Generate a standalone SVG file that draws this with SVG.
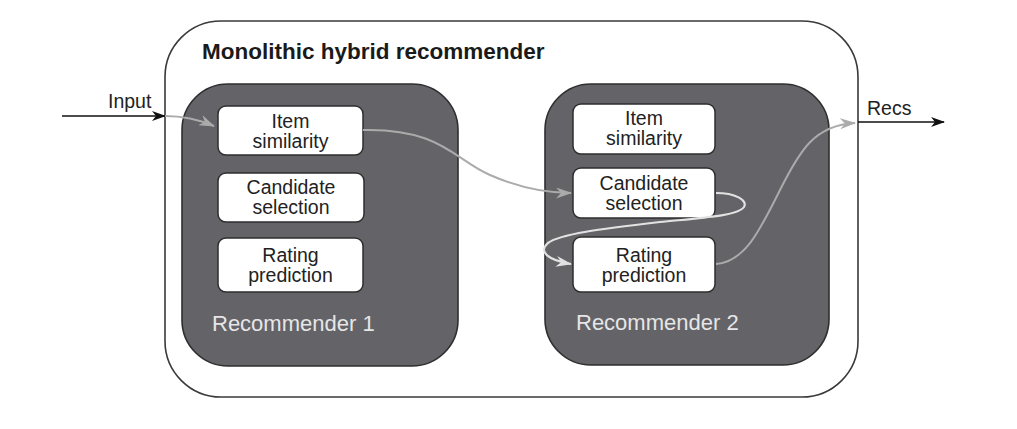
<svg xmlns="http://www.w3.org/2000/svg" width="1017" height="429" viewBox="0 0 1017 429">
<defs>
<style>
.outer{fill:#fff;stroke:#3a3a3a;stroke-width:1.6}
.rec{fill:#636368;stroke:#2e2e2e;stroke-width:1.6}
.box{fill:#fff;stroke:#2e2e2e;stroke-width:1.5}
.t{font-family:"Liberation Sans",Arial,sans-serif;font-size:19.5px;fill:#222;text-anchor:middle}
.title{font-family:"Liberation Sans",Arial,sans-serif;font-size:22.5px;font-weight:bold;fill:#1a1a1a}
.rlab{font-family:"Liberation Sans",Arial,sans-serif;font-size:22px;fill:#e6e6e6}
.lab{font-family:"Liberation Sans",Arial,sans-serif;font-size:19.5px;fill:#222}
.blk{fill:none;stroke:#111;stroke-width:1.6}
.gray{fill:none;stroke:#ababab;stroke-width:2}
.light{fill:none;stroke:#e2e2e2;stroke-width:2.2}
</style>
<marker id="ab" markerWidth="14" markerHeight="10" refX="13" refY="5" orient="auto" markerUnits="userSpaceOnUse">
<path d="M0,0 L14,5 L0,10 L4,5 z" fill="#111"/>
</marker>
<marker id="ag" markerWidth="16" markerHeight="11" refX="15" refY="5.5" orient="auto" markerUnits="userSpaceOnUse">
<path d="M0,0 L16,5.5 L0,11 L5,5.5 z" fill="#ababab"/>
</marker>
<marker id="al" markerWidth="16" markerHeight="11" refX="15" refY="5.5" orient="auto" markerUnits="userSpaceOnUse">
<path d="M0,0 L16,5.5 L0,11 L5,5.5 z" fill="#e2e2e2"/>
</marker>
</defs>
<rect width="1017" height="429" fill="#fff"/>
<g id="monolithic">
<rect class="outer" x="165" y="21" width="693" height="376" rx="56" ry="56"/>
<text class="title" x="202" y="59">Monolithic hybrid recommender</text>
</g>
<g id="recommender1">
<rect class="rec" x="182" y="84" width="276" height="282" rx="46" ry="46"/>
<text class="rlab" x="212" y="331">Recommender 1</text>
</g>
<g id="r1-item">
<rect class="box" x="218" y="106" width="145" height="49" rx="8" ry="8"/>
<text class="t" x="290.5" y="128">Item</text>
<text class="t" x="290.5" y="148">similarity</text>
</g>
<g id="r1-candidate">
<rect class="box" x="218" y="173" width="146" height="49" rx="8" ry="8"/>
<text class="t" x="291" y="194">Candidate</text>
<text class="t" x="291" y="214">selection</text>
</g>
<g id="r1-rating">
<rect class="box" x="218" y="238" width="145" height="54" rx="8" ry="8"/>
<text class="t" x="290.5" y="262">Rating</text>
<text class="t" x="290.5" y="282">prediction</text>
</g>
<g id="recommender2">
<rect class="rec" x="545" y="84" width="284" height="281" rx="46" ry="46"/>
<text class="rlab" x="576" y="330">Recommender 2</text>
</g>
<g id="r2-item">
<rect class="box" x="573" y="104" width="142" height="50" rx="8" ry="8"/>
<text class="t" x="644" y="125">Item</text>
<text class="t" x="644" y="145">similarity</text>
</g>
<g id="r2-candidate">
<rect class="box" x="573" y="168" width="142" height="50" rx="8" ry="8"/>
<text class="t" x="644" y="190">Candidate</text>
<text class="t" x="644" y="210">selection</text>
</g>
<g id="r2-rating">
<rect class="box" x="573" y="237" width="142" height="55" rx="8" ry="8"/>
<text class="t" x="644" y="262">Rating</text>
<text class="t" x="644" y="282">prediction</text>
</g>
<g id="labels">
<text class="lab" x="108" y="108">Input</text>
<text class="lab" x="867" y="115">Recs</text>
</g>
<g id="connectors">
<line class="blk" x1="62" y1="116" x2="165" y2="116" marker-end="url(#ab)"/>
<line class="blk" x1="858" y1="122" x2="944" y2="122" marker-end="url(#ab)"/>
<path class="gray" d="M165,116 C185,116 200,120 214,126" marker-end="url(#ag)"/>
<path class="gray" d="M363,130 C440,128 455,160 490,175 C515,186 540,193 571,193" marker-end="url(#ag)"/>
<path class="light" d="M716,193 C735,193 748,200 744,207 C738,216 700,218 660,222 C600,229 560,234 548,243 C538,252 548,260 571,264" marker-end="url(#al)"/>
<path class="gray" d="M716,264 C745,262 760,230 780,190 C800,150 815,125 855,123" marker-end="url(#ag)"/>
</g>
</svg>
